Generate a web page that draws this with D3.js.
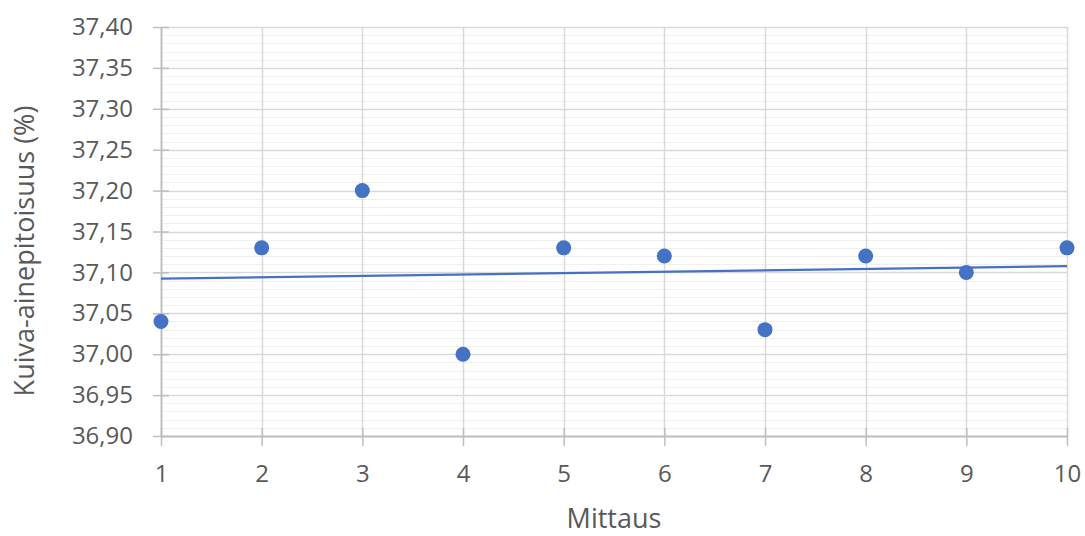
<!DOCTYPE html>
<html>
<head>
<meta charset="utf-8">
<script src="https://cdn.jsdelivr.net/npm/d3@7"></script>
<style>
  body { margin: 0; background: #fff; }
  text { font-family: "Open Sans", "Noto Sans", sans-serif; fill: #595959; }
</style>
</head>
<body>
<div id="chart"></div>
<script>
// measurement number and dry matter content (%)
var mittaus = [1, 2, 3, 4, 5, 6, 7, 8, 9, 10];
var kuiva = [37.04, 37.13, 37.20, 37.00, 37.13, 37.12, 37.03, 37.12, 37.10, 37.13];
var yTicks = [36.90, 36.95, 37.00, 37.05, 37.10, 37.15, 37.20, 37.25, 37.30, 37.35, 37.40];
var xTitle = "Mittaus";
var yTitle = "Kuiva-ainepitoisuus (%)";

var width = 1085, height = 536;
var margin = {left: 161, right: 18, top: 27, bottom: 100};

var svg = d3.select("#chart").append("svg").attr("width", width).attr("height", height);

var x = d3.scaleLinear().domain([1, 10]).range([margin.left, width - margin.right]);
var y = d3.scaleLinear().domain([36.90, 37.40]).range([height - margin.bottom, margin.top]);

var fmt = function(d) { return d3.format(".2f")(d).replace(".", ","); };

// minor gridlines every 0.01
var minor = d3.range(0, 51).map(i => 36.90 + i * 0.01);
svg.append("g").selectAll("line").data(minor).enter().append("line")
    .attr("x1", x(1)).attr("x2", x(10))
    .attr("y1", d => Math.round(y(d)) + 0.5).attr("y2", d => Math.round(y(d)) + 0.5)
    .attr("stroke", "#f0f0f0").attr("stroke-width", 1);

// major gridlines
svg.append("g").selectAll("line").data(yTicks).enter().append("line")
    .attr("x1", x(1)).attr("x2", x(10))
    .attr("y1", d => Math.round(y(d)) + 0.5).attr("y2", d => Math.round(y(d)) + 0.5)
    .attr("stroke", "#d9d9d9").attr("stroke-width", 1.5);

svg.append("g").selectAll("line").data(mittaus.slice(1)).enter().append("line")
    .attr("x1", d => Math.round(x(d)) + 0.5).attr("x2", d => Math.round(x(d)) + 0.5)
    .attr("y1", y(36.90)).attr("y2", y(37.40))
    .attr("stroke", "#d9d9d9").attr("stroke-width", 1.5);

// axes
var yAxis = d3.axisLeft(y).tickValues(yTicks).tickFormat(fmt).tickSizeInner(8).tickSizeOuter(0).tickPadding(20);
var gy = svg.append("g").attr("transform", "translate(" + x(1) + ",0)").call(yAxis);
gy.select(".domain").attr("stroke", "#bfbfbf").attr("stroke-width", 2);
gy.selectAll(".tick line").attr("stroke", "#bfbfbf").attr("stroke-width", 1.5).attr("x2", -8).attr("x1", 8);
gy.selectAll(".tick text").style("font-size", "24px");

var xAxis = d3.axisBottom(x).tickValues(mittaus).tickFormat(d3.format("d")).tickSizeInner(10).tickSizeOuter(0).tickPadding(19);
var gx = svg.append("g").attr("transform", "translate(0," + y(36.90) + ")").call(xAxis);
gx.select(".domain").attr("stroke", "#bfbfbf").attr("stroke-width", 2);
gx.selectAll(".tick line").attr("stroke", "#bfbfbf").attr("stroke-width", 1.5).attr("y1", -8).attr("y2", 10);
gx.selectAll(".tick text").style("font-size", "24px");

// axis titles
svg.append("text").attr("x", (x(1) + x(10)) / 2).attr("y", 528)
    .attr("text-anchor", "middle").style("font-size", "27px").text(xTitle);
svg.append("text").attr("transform", "translate(34,251) rotate(-90)")
    .attr("text-anchor", "middle").style("font-size", "27px").text(yTitle);

// linear trendline from least squares fit
var mx = d3.mean(mittaus), my = d3.mean(kuiva);
var sxy = d3.sum(mittaus, (d, i) => (d - mx) * (kuiva[i] - my));
var sxx = d3.sum(mittaus, d => (d - mx) * (d - mx));
var slope = sxy / sxx, icpt = my - slope * mx;
svg.append("path")
    .datum([1, 10])
    .attr("fill", "none").attr("stroke", "#4472c4").attr("stroke-width", 2.25)
    .attr("d", d3.line().x(d => x(d)).y(d => y(icpt + slope * d)));

// points
svg.append("g").selectAll("circle").data(mittaus).enter().append("circle")
    .attr("cx", d => x(d)).attr("cy", (d, i) => y(kuiva[i]))
    .attr("r", 7.5).attr("fill", "#4472c4");
</script>
</body>
</html>
